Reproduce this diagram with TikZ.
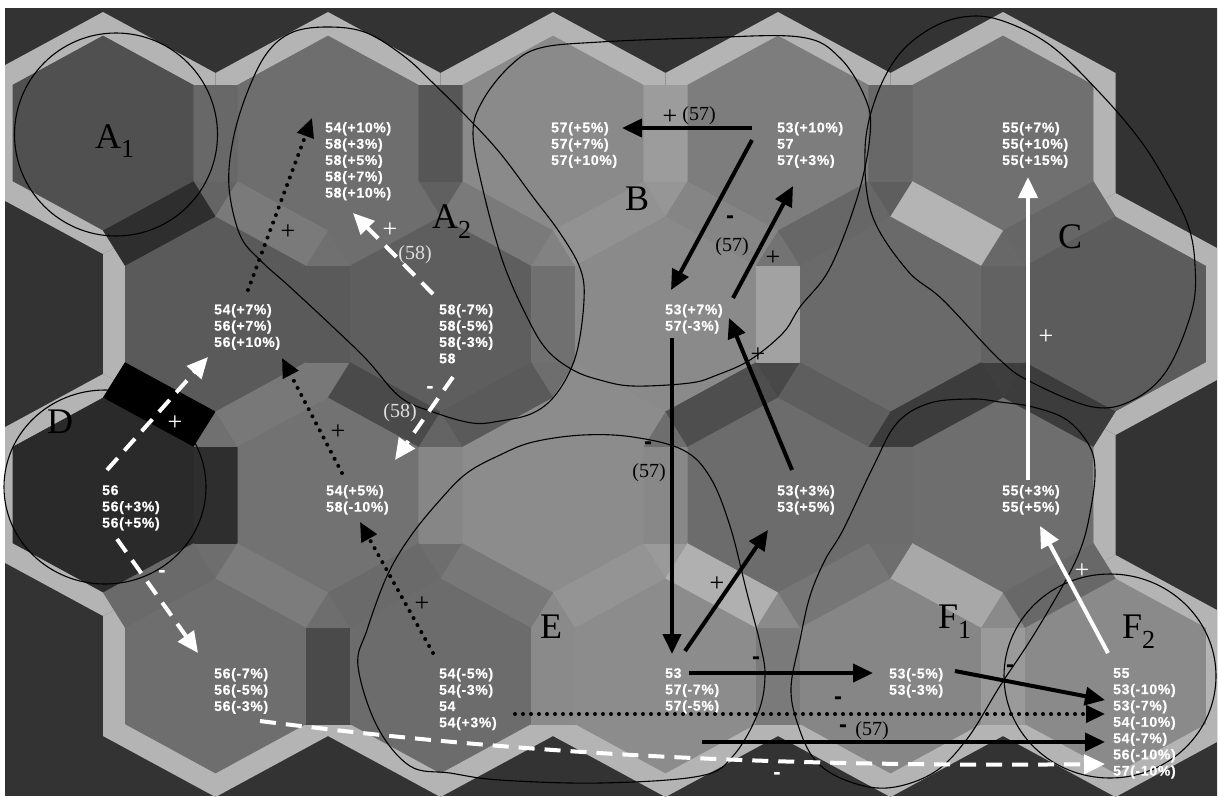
\documentclass[tikz,border=0pt]{standalone}
\usepackage{fontspec}
\setmainfont{Liberation Serif}
\newfontfamily\labfont[LetterSpace=5,FakeBold=0.6]{Liberation Sans Bold}
\newfontfamily\minfont{Liberation Sans Bold}
\usetikzlibrary{arrows.meta}
% background pieces of the hexagon map (pixel units, y downwards)
\newcommand\bgvc[2]{\path[fill={rgb,255:red,180;green,180;blue,180}] (#1,#2-121) -- (#1+112.5,#2-60) -- (#1+112.5,#2+60) -- (#1,#2+121) -- (#1-112.5,#2+60) -- (#1-112.5,#2-60) -- cycle;}
\newcommand\bgface[3]{\path[fill={rgb,255:red,#3;green,#3;blue,#3},draw={rgb,255:red,#3;green,#3;blue,#3},line width=.6pt] (#1,#2-97) -- (#1+90,#2-48) -- (#1+90,#2+48) -- (#1,#2+97) -- (#1-90,#2+48) -- (#1-90,#2-48) -- cycle;}
\newcommand\bgh[3]{\path[fill={rgb,255:red,#3;green,#3;blue,#3},draw={rgb,255:red,#3;green,#3;blue,#3},line width=.6pt] (#1+90,#2-48) rectangle (#1+135,#2+48);}
\newcommand\bgr[3]{\path[fill={rgb,255:red,#3;green,#3;blue,#3},draw={rgb,255:red,#3;green,#3;blue,#3},line width=.6pt] (#1+90,#2+48) -- (#1,#2+97) -- (#1+22.5,#2+133) -- (#1+112.5,#2+84) -- cycle;}
\newcommand\bgl[3]{\path[fill={rgb,255:red,#3;green,#3;blue,#3},draw={rgb,255:red,#3;green,#3;blue,#3},line width=.6pt] (#1-90,#2+48) -- (#1,#2+97) -- (#1-22.5,#2+133) -- (#1-112.5,#2+84) -- cycle;}
\newcommand\bgd[3]{\path[fill={rgb,255:red,#3;green,#3;blue,#3},draw={rgb,255:red,#3;green,#3;blue,#3},line width=.6pt] (#1+90,#2+48) -- (#1+135,#2+48) -- (#1+112.5,#2+84) -- cycle;}
\newcommand\bgu[3]{\path[fill={rgb,255:red,#3;green,#3;blue,#3},draw={rgb,255:red,#3;green,#3;blue,#3},line width=.6pt] (#1,#2+97) -- (#1-22.5,#2+133) -- (#1+22.5,#2+133) -- cycle;}
\tikzset{
 lab/.style={anchor=north west, inner sep=0pt, align=left, text=white, font=\labfont\fontsize{14}{16.3}\selectfont},
 big/.style={anchor=base west, inner sep=0pt, font=\fontsize{36}{36}\selectfont},
 ann/.style={inner sep=0pt, font=\fontsize{20}{20}\selectfont},
 plus/.style={inner sep=0pt, font=\fontsize{26}{26}\selectfont},
 wplus/.style={plus, text=white},
 lann/.style={ann, text={rgb,255:red,222;green,222;blue,222}},
 minus/.style={inner sep=0pt, font=\minfont\fontsize{24}{24}\selectfont},
 wminus/.style={inner sep=0pt, text=white, font=\minfont\fontsize{22}{22}\selectfont},
 blob/.style={draw=black, line width=1.1pt},
 barrow/.style={line width=4pt, -{Triangle[length=20pt,width=18pt]}},
 darrow/.style={line width=4pt, line cap=round, dash pattern=on 0pt off 8pt, -{Triangle[length=19pt,width=17pt]}},
 warrow/.style={draw=white, line width=4pt, -{Triangle[length=21pt,width=19pt]}},
 wdarrow/.style={draw=white, line width=4pt, dash pattern=on 16pt off 10pt, -{Triangle[length=21pt,width=19pt]}},
}
\begin{document}
\begin{tikzpicture}[x=1pt,y=-1pt]
\useasboundingbox (0,0) rectangle (1220,796);
\fill[white] (0,0) rectangle (1220,796);
\begin{scope}
\clip (5,8) rectangle (1217,796);
\fill[fill={rgb,255:red,51;green,51;blue,51}] (0,0) rectangle (1220,796);
% light outer band
\bgvc{103}{133}\bgvc{328}{133}\bgvc{553}{133}\bgvc{778}{133}\bgvc{1003}{133}
\bgvc{215.5}{314}\bgvc{440.5}{314}\bgvc{665.5}{314}\bgvc{890.5}{314}\bgvc{1115.5}{314}
\bgvc{103}{495}\bgvc{328}{495}\bgvc{553}{495}\bgvc{778}{495}\bgvc{1003}{495}
\bgvc{215.5}{676}\bgvc{440.5}{676}\bgvc{665.5}{676}\bgvc{890.5}{676}\bgvc{1115.5}{676}
% corners
\bgd{103}{133}{100}\bgd{328}{133}{96}\bgd{553}{133}{150}\bgd{778}{133}{94}
\bgu{328}{133}{112}\bgu{553}{133}{130}\bgu{778}{133}{115}\bgu{1003}{133}{104}
\bgd{215.5}{314}{120}\bgd{440.5}{314}{110}\bgd{665.5}{314}{72}\bgd{890.5}{314}{62}
\bgu{215.5}{314}{112}\bgu{440.5}{314}{100}\bgu{665.5}{314}{110}\bgu{890.5}{314}{60}
\bgd{103}{495}{110}\bgd{328}{495}{110}\bgd{553}{495}{154}\bgd{778}{495}{110}
\bgu{328}{495}{110}\bgu{553}{495}{138}\bgu{778}{495}{138}\bgu{1003}{495}{138}
% horizontal edges
\bgh{103}{133}{104}\bgh{328}{133}{86}\bgh{553}{133}{156}\bgh{778}{133}{104}
\bgh{215.5}{314}{90}\bgh{440.5}{314}{112}\bgh{665.5}{314}{162}\bgh{890.5}{314}{98}
\bgh{103}{495}{46}\bgh{328}{495}{134}\bgh{553}{495}{136}\bgh{778}{495}{108}
\bgh{215.5}{676}{74}\bgh{440.5}{676}{138}\bgh{665.5}{676}{122}\bgh{890.5}{676}{154}
% diagonal edges
\bgr{103}{133}{46}
\bgl{328}{133}{122}\bgr{328}{133}{110}
\bgl{553}{133}{122}\bgr{553}{133}{146}
\bgl{778}{133}{133}\bgr{778}{133}{103}
\bgl{1003}{133}{180}\bgr{1003}{133}{102}
\bgl{215.5}{314}{0}\bgr{215.5}{314}{120}
\bgl{440.5}{314}{74}\bgr{440.5}{314}{90}
\bgl{665.5}{314}{140}\bgr{665.5}{314}{78}
\bgl{890.5}{314}{94}\bgr{890.5}{314}{60}
\bgl{1115.5}{314}{60}
\bgr{103}{495}{106}
\bgl{328}{495}{124}\bgr{328}{495}{106}
\bgl{553}{495}{120}\bgr{553}{495}{148}
\bgl{778}{495}{176}\bgr{778}{495}{118}
\bgl{1003}{495}{168}\bgr{1003}{495}{104}
% faces
\bgface{103}{133}{80}\bgface{328}{133}{110}\bgface{553}{133}{138}\bgface{778}{133}{125}\bgface{1003}{133}{112}
\bgface{215.5}{314}{90}\bgface{440.5}{314}{94}\bgface{665.5}{314}{138}\bgface{890.5}{314}{106}\bgface{1115.5}{314}{92}
\bgface{103}{495}{42}\bgface{328}{495}{114}\bgface{553}{495}{140}\bgface{778}{495}{108}\bgface{1003}{495}{110}
\bgface{215.5}{676}{110}\bgface{440.5}{676}{108}\bgface{665.5}{676}{140}\bgface{890.5}{676}{134}\bgface{1115.5}{676}{138}
\end{scope}
% region outlines
\draw[blob] (116,134.5) circle[radius=101.5];
\draw[blob] (105,487) ellipse[x radius=101, y radius=97];
\draw[blob] (1110,676) ellipse[x radius=106, y radius=102];
\draw[blob] plot[smooth cycle, tension=0.6] coordinates {(330,27) (367,33) (405,57) (433,83) (467,117) (500,153) (533,197) (560,233) (580,268) (584,300) (576,355) (557,393) (533,413) (500,421) (472,423) (433,412) (400,397) (367,360) (333,327) (290,287) (260,260) (240,235) (229,187) (233,140) (247,93) (267,53) (293,32)};
\draw[blob] plot[smooth cycle, tension=0.6] coordinates {(503,262) (483,190) (473,133) (483,100) (510,66) (540,48) (600,42) (700,38) (800,37) (840,58) (866,100) (870,135) (858,195) (830,268) (800,307) (783,333) (750,360) (717,375) (690,383) (633,386) (600,380) (573,370) (547,350) (527,317)};
\draw[blob] plot[smooth cycle, tension=0.6] coordinates {(963,17) (1000,20) (1050,45) (1100,93) (1140,140) (1167,183) (1188,225) (1195,265) (1192,310) (1167,370) (1133,400) (1093,407) (1033,383) (1000,360) (943,300) (907,270) (872,215) (865,150) (875,100) (897,57) (928,30)};
\draw[blob] plot[smooth cycle, tension=0.6] coordinates {(410,537) (440,500) (467,473) (500,455) (533,442) (583,435) (633,437) (683,450) (710,477) (730,526) (747,593) (760,643) (765,676) (758,713) (733,756) (700,776) (600,783) (500,780) (450,773) (410,766) (377,726) (358,666) (367,630) (387,576)};
\draw[blob] plot[smooth cycle, tension=0.6] coordinates {(897,423) (930,403) (973,399) (1000,402) (1033,407) (1067,420) (1090,447) (1095,475) (1090,513) (1082,545) (1067,578) (1033,636) (1000,686) (967,739) (933,773) (887,788) (845,780) (815,760) (798,725) (791,688) (800,640) (810,596) (825,560) (843,530) (873,467)};
% text blocks
\node[lab] (t1) at (325,122) {54(+10\%)\\58(+3\%)\\58(+5\%)\\58(+7\%)\\58(+10\%)};
\node[lab] (t2) at (551,122) {57(+5\%)\\57(+7\%)\\57(+10\%)};
\node[lab] (t3) at (777,122) {53(+10\%)\\57\\57(+3\%)};
\node[lab] (t4) at (1002,122) {55(+7\%)\\55(+10\%)\\55(+15\%)};
\node[lab] (t5) at (214,304) {54(+7\%)\\56(+7\%)\\56(+10\%)};
\node[lab] (t6) at (439,304) {58(-7\%)\\58(-5\%)\\58(-3\%)\\58};
\node[lab] (t7) at (665,304) {53(+7\%)\\57(-3\%)};
\node[lab] (t8) at (102,485) {56\\56(+3\%)\\56(+5\%)};
\node[lab] (t9) at (326,485) {54(+5\%)\\58(-10\%)};
\node[lab] (t10) at (777,485) {53(+3\%)\\53(+5\%)};
\node[lab] (t11) at (1002,485) {55(+3\%)\\55(+5\%)};
\node[lab] (t12) at (214,668) {56(-7\%)\\56(-5\%)\\56(-3\%)};
\node[lab] (t13) at (439,668) {54(-5\%)\\54(-3\%)\\54\\54(+3\%)};
\node[lab] (t14) at (665,668) {53\\57(-7\%)\\57(-5\%)};
\node[lab] (t15) at (889,668) {53(-5\%)\\53(-3\%)};
\node[lab] (t16) at (1113,668) {55\\53(-10\%)\\53(-7\%)\\54(-10\%)\\54(-7\%)\\56(-10\%)\\57(-10\%)};
% region letters
\node[big] (la1) at (95,148) {A\raisebox{-9pt}{\fontsize{26}{26}\selectfont 1}};
\node[big] (la2) at (432,228) {A\raisebox{-10pt}{\fontsize{26}{26}\selectfont 2}};
\node[big] (lb) at (625,210) {B};
\node[big] (lc) at (1058,248) {C};
\node[big] (ld) at (47,433) {D};
\node[big] (le) at (540,638) {E};
\node[big] (lf1) at (938,628) {F\raisebox{-10pt}{\fontsize{26}{26}\selectfont 1}};
\node[big] (lf2) at (1122,638) {F\raisebox{-10pt}{\fontsize{26}{26}\selectfont 2}};
% arrow end points
\coordinate (a1s) at (248,290); \coordinate (a1e) at (312,118);
\coordinate (a2s) at (342,473); \coordinate (a2e) at (282,358);
\coordinate (a3s) at (433,653); \coordinate (a3e) at (360,522);
\coordinate (a4s) at (515,714); \coordinate (a4e) at (1105,714);
\coordinate (a5s) at (107,470); \coordinate (a5e) at (208,357);
\coordinate (a6s) at (117,539); \coordinate (a6e) at (198,653);
\coordinate (a7s) at (260,721); \coordinate (a7e) at (1105,764);
\coordinate (a8s) at (453,377); \coordinate (a8e) at (395,460);
\coordinate (a9s) at (433,294); \coordinate (a9e) at (353,213);
\coordinate (b1s) at (752,128); \coordinate (b1e) at (622,128);
\coordinate (b2s) at (752,140); \coordinate (b2e) at (671,290);
\coordinate (b3s) at (733,298); \coordinate (b3e) at (793,186);
\coordinate (b4s) at (792,470); \coordinate (b4e) at (729,318);
\coordinate (b5s) at (672,338); \coordinate (b5e) at (672,654);
\coordinate (b6s) at (685,651); \coordinate (b6e) at (768,530);
\coordinate (b7s) at (689,673); \coordinate (b7e) at (873,673);
\coordinate (b8s) at (955,671); \coordinate (b8e) at (1105,700);
\coordinate (b9s) at (702,742); \coordinate (b9e) at (1105,742);
\coordinate (w1s) at (1028,480); \coordinate (w1e) at (1028,177);
\coordinate (w2s) at (1108,653); \coordinate (w2e) at (1040,526);
% arrows
\draw[darrow] (a1s) -- (a1e);
\draw[darrow] (a2s) -- (a2e);
\draw[darrow] (a3s) -- (a3e);
\draw[darrow] (a4s) -- (a4e);
\draw[wdarrow] (a5s) -- (a5e);
\draw[wdarrow] (a6s) -- (a6e);
\draw[wdarrow] (a7s) .. controls (450,745) and (700,768) .. (a7e);
\draw[wdarrow] (a8s) -- (a8e);
\draw[wdarrow] (a9s) -- (a9e);
\draw[barrow] (b1s) -- (b1e);
\draw[barrow] (b2s) -- (b2e);
\draw[barrow] (b3s) -- (b3e);
\draw[barrow] (b4s) -- (b4e);
\draw[barrow] (b5s) -- (b5e);
\draw[barrow] (b6s) -- (b6e);
\draw[barrow] (b7s) -- (b7e);
\draw[barrow] (b8s) -- (b8e);
\draw[barrow] (b9s) -- (b9e);
\draw[warrow] (w1s) -- (w1e);
\draw[warrow] (w2s) -- (w2e);
% arrow labels
\node[plus] (p1) at (288,232) {+};
\node[plus] (p2) at (338,432) {+};
\node[plus] (p3) at (422,604) {+};
\node[plus] (p4) at (773,258) {+};
\node[plus] (p5) at (758,355) {+};
\node[plus] (p6) at (717,584) {+};
\node[plus] (p7) at (670,117) {+};
\node[ann] (q0) at (699,116) {(57)};
\node[ann] (q1) at (732,247) {(57)};
\node[ann] (q2) at (649,473) {(57)};
\node[ann] (q3) at (872,731) {(57)};
\node[minus] (m1) at (730,220) {-};
\node[minus] (m2) at (648,446) {-};
\node[minus] (m3) at (756,661) {-};
\node[minus] (m4) at (1010,669) {-};
\node[minus] (m5) at (838,701) {-};
\node[minus] (m6) at (843,729) {-};
\node[wplus] (wp1) at (175,423) {+};
\node[wplus] (wp2) at (390,230) {+};
\node[wplus] (wp3) at (1046,337) {+};
\node[wplus] (wp4) at (1082,571) {+};
\node[wminus] (wm1) at (162,574) {-};
\node[wminus] (wm2) at (430,390) {-};
\node[wminus] (wm3) at (777,776) {-};
\node[lann] (r1) at (415,255) {(58)};
\node[lann] (r2) at (400,413) {(58)};
\end{tikzpicture}
\end{document}
